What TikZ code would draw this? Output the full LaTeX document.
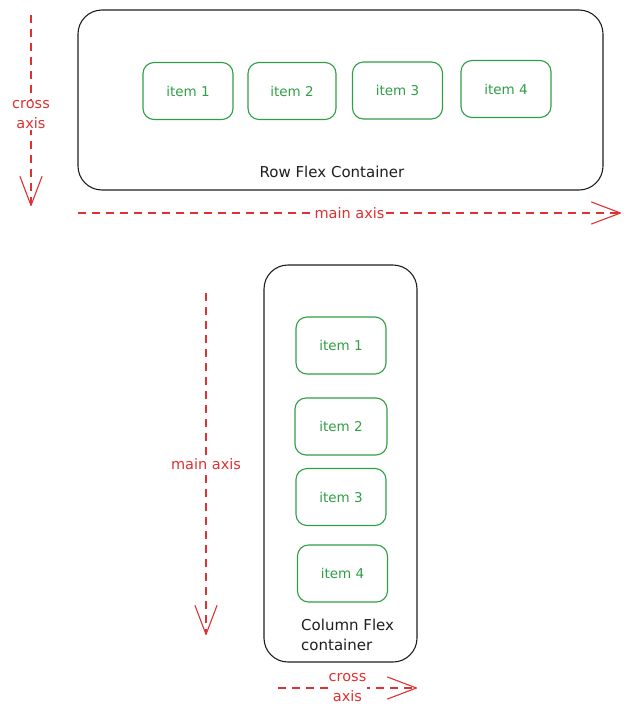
\documentclass[tikz,border=0pt]{standalone}
\usepackage{fontspec}
\setmainfont{DejaVu Sans}
\usetikzlibrary{arrows.meta}
\definecolor{itemgreen}{HTML}{2F9E44}
\definecolor{axisred}{HTML}{E03131}
\definecolor{inkblack}{HTML}{1E1E1E}
\tikzset{
  container/.style={draw=inkblack, line width=1.1pt, rounded corners=24pt, inner sep=0pt},
  itembox/.style={draw=itemgreen, line width=1.1pt, rounded corners=11pt, minimum width=90pt, minimum height=57pt, inner sep=0pt, text=itemgreen, font=\fontsize{13.5}{15}\selectfont},
  axisline/.style={draw=axisred, line width=1.1pt, dash pattern=on 8pt off 6pt, -{Straight Barb[length=29pt,width=22pt,line width=1.1pt,round]}},
  axislabel/.style={fill=white, text=axisred, inner sep=1pt, align=center, font=\fontsize{14.5}{20}\selectfont},
  boxlabel/.style={text=inkblack, inner sep=0pt, font=\fontsize{15}{20}\selectfont}
}
\begin{document}
\begin{tikzpicture}[x=1pt,y=-1pt]
\useasboundingbox (0,0) rectangle (630,718);
% Row container
\node[container, minimum width=525pt, minimum height=180pt] (row) at (340.5,100) {};
\node[boxlabel, anchor=base] (rowlabel) at (332,177.5) {Row Flex Container};
\node[itembox] (r1) at (188,91) {item 1};
\node[itembox, minimum width=88pt] (r2) at (292,91) {item 2};
\node[itembox] (r3) at (397.5,90.5) {item 3};
\node[itembox] (r4) at (506,89) {item 4};
% Row axes
\coordinate (rcs) at (31,15);
\coordinate (rce) at (31,206);
\draw[axisline] (rcs) -- (rce) node[axislabel, pos=0.522] (rcl) {cross\\axis};
\coordinate (rms) at (78,213);
\coordinate (rme) at (621,213);
\draw[axisline] (rms) -- (rme) node[axislabel, pos=0.5] (rml) {main axis};
% Column container
\node[container, minimum width=153pt, minimum height=397pt] (col) at (340.5,463.5) {};
\node[itembox] (c1) at (341,345.5) {item 1};
\node[itembox, minimum width=92pt] (c2) at (341,426.5) {item 2};
\node[itembox] (c3) at (341,497) {item 3};
\node[itembox] (c4) at (342.5,573.5) {item 4};
\node[boxlabel, anchor=north west, align=left] (collabel) at (301,619) {Column Flex\\container};
% Column axes
\coordinate (cms) at (206,293);
\coordinate (cme) at (206,635);
\draw[axisline] (cms) -- (cme) node[axislabel, midway] (cml) {main axis};
\coordinate (ccs) at (278,688);
\coordinate (cce) at (417,688);
\draw[axisline] (ccs) -- (cce) node[axislabel, midway] (ccl) {cross\\axis};
\end{tikzpicture}
\end{document}
